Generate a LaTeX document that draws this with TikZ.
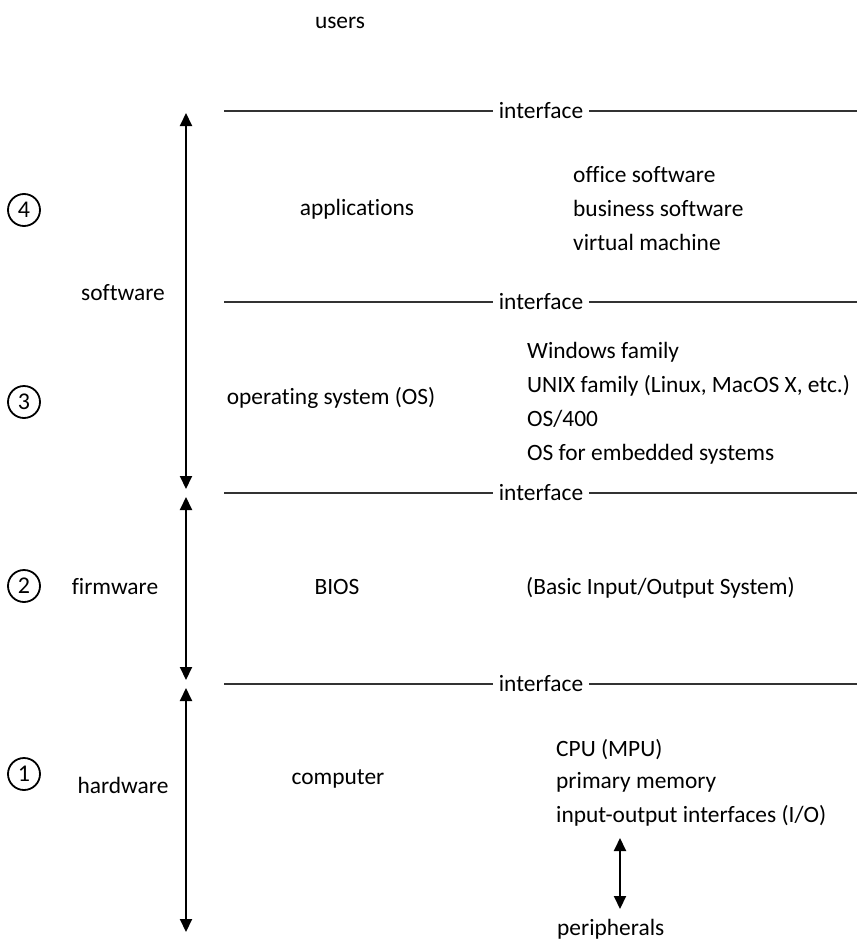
\documentclass[tikz,border=0pt]{standalone}
\usepackage{fontspec}
\setmainfont{Carlito}[Ligatures=NoCommon]
\usetikzlibrary{arrows.meta}

\tikzset{
  txt/.style={inner sep=0pt,anchor=base west},
  ctxt/.style={inner sep=0pt,anchor=base},
  layerline/.style={line width=2.8pt,black!80},
  span/.style={line width=2pt,{Triangle[length=13pt,width=12pt]}-{Triangle[length=13pt,width=12pt]}},
  num/.style={draw,circle,line width=1.8pt,minimum size=32pt,inner sep=0pt,font=\fontsize{24}{28}\selectfont}
}

\begin{document}
\begin{tikzpicture}[x=1pt,y=-1pt,font=\fontsize{23.4}{28}\selectfont]
                \useasboundingbox (0,0) rectangle (857,942);
                % users
                \node[ctxt] (users) at (340,29) {users};
                % interfaces
                \foreach \y [count=\i] in {111,302,493,684} {
                  \coordinate (il\i) at (224,\y);
                  \coordinate (ir\i) at (857,\y);
                  \node[inner sep=6pt] (if\i) at (541,\y) {interface};
                  \draw[layerline] (il\i) -- (if\i.west);
                  \draw[layerline] (if\i.east) -- (ir\i);
                }
                % spans on the left
                \coordinate (s1) at (186,113);
                \coordinate (s2) at (186,489);
                \coordinate (s3) at (186,497);
                \coordinate (s4) at (186,680);
                \coordinate (s5) at (186,688);
                \coordinate (s6) at (186,932);
                \draw[span] (s1) -- (s2);
                \draw[span] (s3) -- (s4);
                \draw[span] (s5) -- (s6);
                % layer numbers
                \node[num] (n4) at (24,210) {4};
                \node[num] (n3) at (24,402) {3};
                \node[num] (n2) at (24,586) {2};
                \node[num] (n1) at (24,774) {1};
                % layer names
                \node[ctxt] (software) at (123,300) {software};
                \node[ctxt] (firmware) at (115,594) {firmware};
                \node[ctxt] (hardware) at (123,793) {hardware};
                \node[ctxt] (apps) at (357,215) {applications};
                \node[ctxt] (os) at (331,404) {operating system (OS)};
                \node[ctxt] (bios) at (337,594) {BIOS};
                \node[ctxt] (comp) at (338,784) {computer};
                % examples
                \node[txt] (a1) at (573,182) {office software};
                \node[txt] (a2) at (573,216) {business software};
                \node[txt] (a3) at (573,250) {virtual machine};
                \node[txt] (o1) at (527,358) {Windows family};
                \node[txt] (o2) at (527,392) {UNIX family (Linux, MacOS X, etc.)};
                \node[txt] (o3) at (527,426) {OS/400};
                \node[txt] (o4) at (527,460) {OS for embedded systems};
                \node[txt] (b1) at (526,594) {(Basic Input/Output System)};
                \node[txt] (h1) at (556,756) {CPU (MPU)};
                \node[txt] (h2) at (556,788) {primary memory};
                \node[txt] (h3) at (556,822) {input-output interfaces (I/O)};
                \node[txt] (per) at (557,935) {peripherals};
                \coordinate (p1) at (620,838);
                \coordinate (p2) at (620,909);
                \draw[span] (p1) -- (p2);
            \end{tikzpicture}
\end{document}
